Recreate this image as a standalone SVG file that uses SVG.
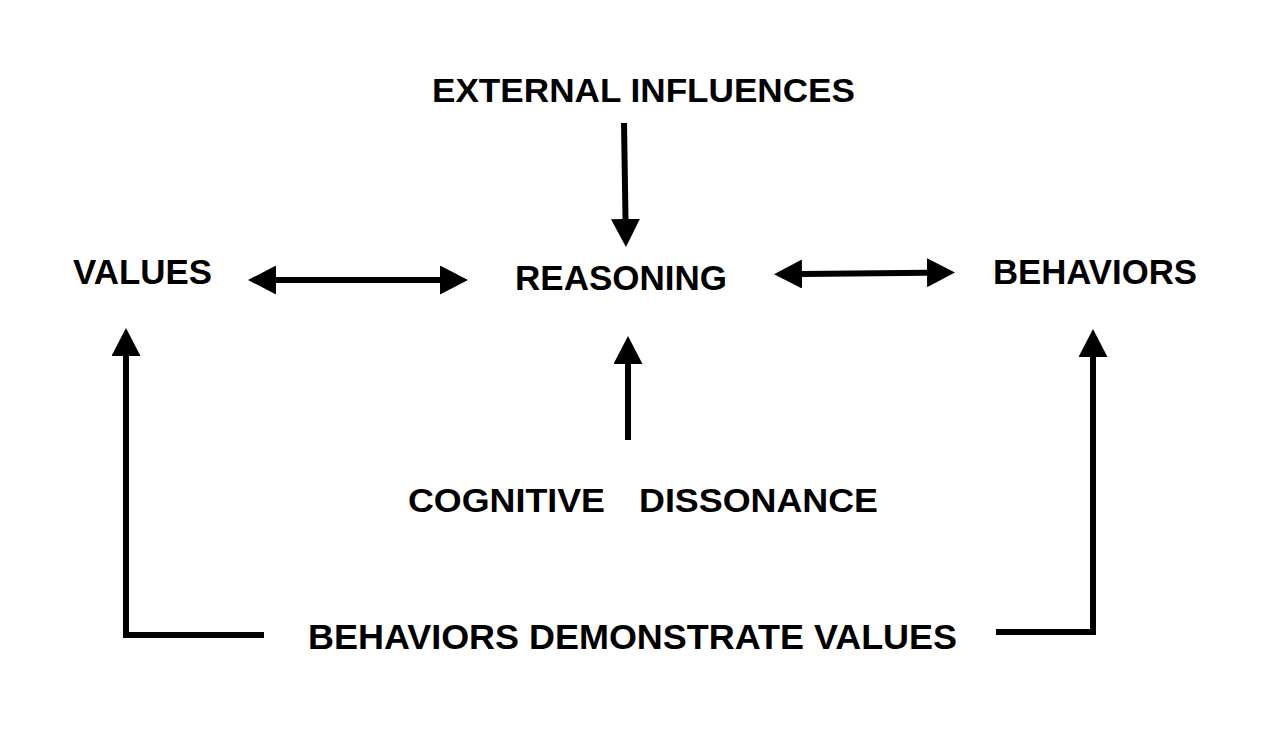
<svg xmlns="http://www.w3.org/2000/svg" width="1274" height="750" viewBox="0 0 1274 750">
  <style>
    .lbl { font-family: "Liberation Sans", Arial, sans-serif; font-weight: bold; fill: #000; }
    .conn { fill: none; stroke: #000; stroke-width: 6; stroke-linejoin: miter; stroke-linecap: butt; }
  </style>
  <defs>
    <marker id="head" viewBox="0 0 28 29" refX="0" refY="14.5" markerWidth="28" markerHeight="29" markerUnits="userSpaceOnUse" orient="auto-start-reverse">
      <path d="M0,0 L28,14.5 L0,29 Z" fill="#000"/>
    </marker>
  </defs>
  <rect width="1274" height="750" fill="#fff"/>

  <g id="external-influences">
    <text class="lbl" x="432" y="102" font-size="34" textLength="423" lengthAdjust="spacingAndGlyphs">EXTERNAL INFLUENCES</text>
  </g>
  <g id="values">
    <text class="lbl" x="73" y="284" font-size="35" textLength="139" lengthAdjust="spacingAndGlyphs">VALUES</text>
  </g>
  <g id="reasoning">
    <text class="lbl" x="515" y="290" font-size="35" textLength="212" lengthAdjust="spacingAndGlyphs">REASONING</text>
  </g>
  <g id="behaviors">
    <text class="lbl" x="993" y="284" font-size="35" textLength="204" lengthAdjust="spacingAndGlyphs">BEHAVIORS</text>
  </g>
  <g id="cognitive-dissonance">
    <text class="lbl" y="512" font-size="34"><tspan x="408" textLength="197" lengthAdjust="spacingAndGlyphs">COGNITIVE</tspan><tspan x="639" textLength="239" lengthAdjust="spacingAndGlyphs">DISSONANCE</tspan></text>
  </g>
  <g id="behaviors-demonstrate-values">
    <text class="lbl" x="308" y="649" font-size="35" textLength="649" lengthAdjust="spacingAndGlyphs">BEHAVIORS DEMONSTRATE VALUES</text>
  </g>

  <g id="connectors">
    <path class="conn" d="M276,280 L440,280" marker-start="url(#head)" marker-end="url(#head)"/>
    <path class="conn" d="M624,123 L625.5,219" marker-end="url(#head)"/>
    <path class="conn" d="M802,274 L927,272.7" marker-start="url(#head)" marker-end="url(#head)"/>
    <path class="conn" d="M628,440 L628,364" marker-end="url(#head)"/>
    <path class="conn" d="M264,635 L126,635 L126,356" marker-end="url(#head)"/>
    <path class="conn" d="M996,632 L1093,632 L1093,357" marker-end="url(#head)"/>
  </g>
</svg>
